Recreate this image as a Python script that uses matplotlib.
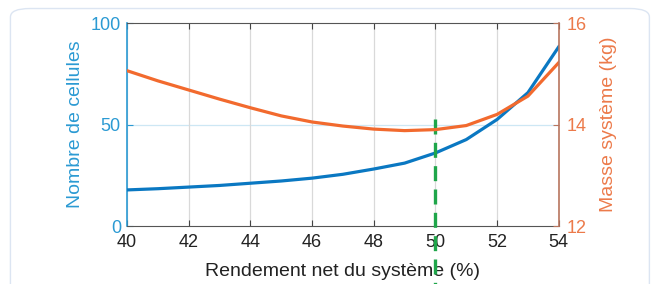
import matplotlib.pyplot as plt
from matplotlib.patches import FancyBboxPatch

plt.rcParams['font.family'] = ['Liberation Sans', 'DejaVu Sans']

# data
rendement = [40, 41, 42, 43, 44, 45, 46, 47, 48, 49, 50, 51, 52, 53, 54]
nb_cellules = [17.8, 18.4, 19.2, 20.0, 21.1, 22.2, 23.6, 25.5, 28.1, 31.0, 36.0, 42.6, 52.5, 65.7, 88.3]
masse = [15.06, 14.86, 14.68, 14.50, 14.33, 14.17, 14.05, 13.97, 13.91, 13.88, 13.90, 13.98, 14.20, 14.56, 15.22]
x_opt = 50

blue_line = '#0A78C2'
blue_axis = '#2B9AD3'
orange_line = '#F26A2E'
orange_axis = '#EC7A4A'
right_spine = '#B8755E'

fig = plt.figure(figsize=(6.52, 2.84), dpi=100)

# rounded panel behind the chart
panel = FancyBboxPatch((0.016, -0.2), 0.98, 1.17, boxstyle="round,pad=0,rounding_size=0.03",
                       transform=fig.transFigure, fc='white', ec='#DCE5F2', lw=1.0, zorder=-5)
fig.patches.append(panel)

ax = fig.add_axes([0.195, 0.204, 0.662, 0.715])
ax.plot(rendement, nb_cellules, color=blue_line, lw=2.3, zorder=3)
ax.set_xlim(40, 54)
ax.set_ylim(0, 100)
ax.set_xticks(range(40, 55, 2))
ax.set_yticks([0, 50, 100])
ax.grid(True, axis='x', color='#D9D9D9', lw=0.9)
ax.axhline(50, color='#CDE7F4', lw=0.9, zorder=0)
ax.set_axisbelow(True)

ax.tick_params(axis='x', direction='in', top=True, length=4, colors='#444444',
               labelsize=13, labelcolor='#222222', pad=6)
ax.tick_params(axis='y', direction='in', length=4, colors=blue_axis, labelsize=13, pad=4.5)
ax.spines['left'].set_color(blue_axis)
ax.spines['left'].set_linewidth(1.2)
ax.spines['top'].set_color('#555555')
ax.spines['bottom'].set_color('#555555')
ax.spines['right'].set_visible(False)
ax.set_xlabel('Rendement net du système (%)', fontsize=14, color='#222222', labelpad=8)
ax.set_ylabel('Nombre de cellules', fontsize=14, color=blue_axis, labelpad=5)

ax2 = ax.twinx()
ax2.plot(rendement, masse, color=orange_line, lw=2.3, zorder=2)
ax2.set_ylim(12, 16)
ax2.set_yticks([12, 14, 16])
ax2.tick_params(axis='y', direction='in', length=4, colors=right_spine,
                labelcolor=orange_axis, labelsize=13, pad=6)
ax2.spines['right'].set_color(right_spine)
ax2.spines['right'].set_linewidth(1.2)
for s in ['left', 'top', 'bottom']:
    ax2.spines[s].set_visible(False)
ax2.set_ylabel('Masse système (kg)', fontsize=14, color=orange_axis, labelpad=9)

# vertical dashed marker at the optimum, running past the axis
ax.plot([x_opt, x_opt], [52.5, -30], color='#1FA64A', lw=2.4, dashes=(4.5, 2.5),
        clip_on=False, zorder=5)

fig.savefig('out.png', dpi=100)
